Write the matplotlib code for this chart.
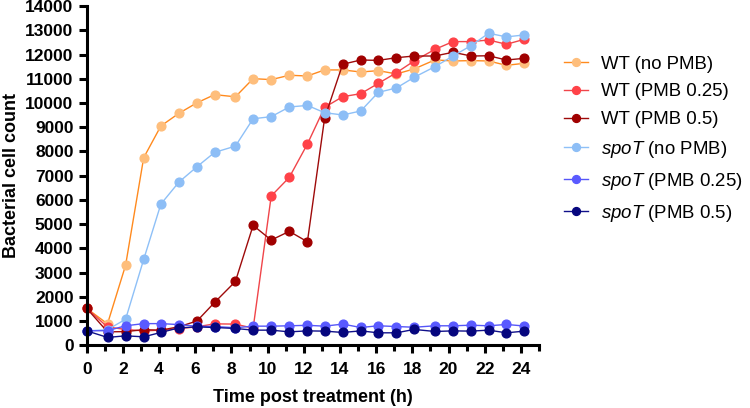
import numpy as np
import matplotlib
matplotlib.use('Agg')
import matplotlib.pyplot as plt
from matplotlib.ticker import MultipleLocator

plt.rcParams['font.family'] = ['Liberation Sans', 'DejaVu Sans']
plt.rcParams['mathtext.fontset'] = 'custom'
plt.rcParams['mathtext.it'] = 'Liberation Sans:italic'
plt.rcParams['mathtext.rm'] = 'Liberation Sans'

# sampling times (h)
time_h = [0, 1.15, 2.15, 3.15, 4.1, 5.1, 6.1, 7.07, 8.22, 9.2, 10.2, 11.2, 12.2,
          13.15, 14.15, 15.15, 16.12, 17.12, 18.1, 19.25, 20.25, 21.25, 22.22, 23.2, 24.2]

wt_no_pmb = [1520, 880, 3300, 7740, 9050, 9575, 10010, 10345, 10255, 11005, 10965, 11145, 11115,
             11365, 11365, 11280, 11335, 11200, 11405, 11780, 11735, 11750, 11735, 11555, 11640]
wt_pmb_025 = [1520, 750, 650, 590, 620, 680, 760, 880, 870, 700, 6160, 6930, 8305,
              9820, 10260, 10385, 10810, 11250, 11735, 12215, 12535, 12535, 12600, 12425, 12630]
wt_pmb_05 = [1520, 550, 560, 640, 620, 760, 1000, 1765, 2630, 4945, 4340, 4700, 4270,
             9370, 11600, 11775, 11760, 11870, 11940, 11940, 12095, 11940, 11950, 11775, 11845]
spot_no_pmb = [590, 640, 1070, 3540, 5825, 6735, 7370, 7960, 8220, 9350, 9435, 9835, 9900,
               9600, 9505, 9670, 10440, 10620, 11060, 11500, 11940, 12370, 12880, 12730, 12810]
spot_pmb_025 = [590, 600, 800, 890, 890, 850, 780, 770, 720, 785, 785, 800, 820,
                785, 870, 730, 800, 770, 740, 800, 800, 825, 800, 855, 790]
spot_pmb_05 = [590, 320, 385, 345, 525, 715, 755, 730, 690, 620, 620, 550, 590,
               580, 525, 590, 510, 510, 650, 565, 590, 580, 620, 510, 580]

series = [
    (wt_no_pmb, 'WT (no PMB)', '#FF8A1E', '#FEBE7C'),
    (wt_pmb_025, 'WT (PMB 0.25)', '#F0454A', '#FF4248'),
    (wt_pmb_05, 'WT (PMB 0.5)', '#9E0A0A', '#A00000'),
    (spot_no_pmb, r'$\it{spoT}$ (no PMB)', '#8EC0F7', '#8DBEF6'),
    (spot_pmb_025, r'$\it{spoT}$ (PMB 0.25)', '#5656F8', '#5A5AFF'),
    (spot_pmb_05, r'$\it{spoT}$ (PMB 0.5)', '#10108A', '#06067E'),
]

fig = plt.figure(figsize=(7.5, 4.08), dpi=100)
ax = fig.add_axes([0.1156, 0.154, 0.603, 0.831])

for vals, lab, lc, mc in series:
    ax.plot(time_h, vals, '-o', color=lc, lw=1.0, ms=6.3,
            markerfacecolor=mc, markeredgecolor=mc, label=lab, clip_on=False)

ax.set_xlim(0, 25)
ax.set_ylim(0, 14000)
ax.xaxis.set_major_locator(MultipleLocator(2))
ax.xaxis.set_minor_locator(MultipleLocator(1))
ax.yaxis.set_major_locator(MultipleLocator(1000))

for s in ['top', 'right']:
    ax.spines[s].set_visible(False)
for s in ['left', 'bottom']:
    ax.spines[s].set_linewidth(2.2)

ax.tick_params(which='major', length=6, width=2.2, labelsize=12.5, direction='out')
ax.tick_params(axis='x', which='major', pad=6)
ax.tick_params(which='minor', length=4, width=2.2, direction='out')
for t in ax.get_xticklabels() + ax.get_yticklabels():
    t.set_fontweight('bold')

ax.set_xlabel('Time post treatment (h)', fontsize=13, fontweight='bold', labelpad=9)
ax.set_ylabel('Bacterial cell count', fontsize=13, fontweight='bold', labelpad=4)

ax.legend(loc='upper left', bbox_to_anchor=(0.729, 0.905), bbox_transform=fig.transFigure,
          frameon=False, fontsize=13.4, handlelength=1.32, markerscale=0.9,
          labelspacing=0.58, handletextpad=0.7)

fig.savefig('out.png', dpi=100)
